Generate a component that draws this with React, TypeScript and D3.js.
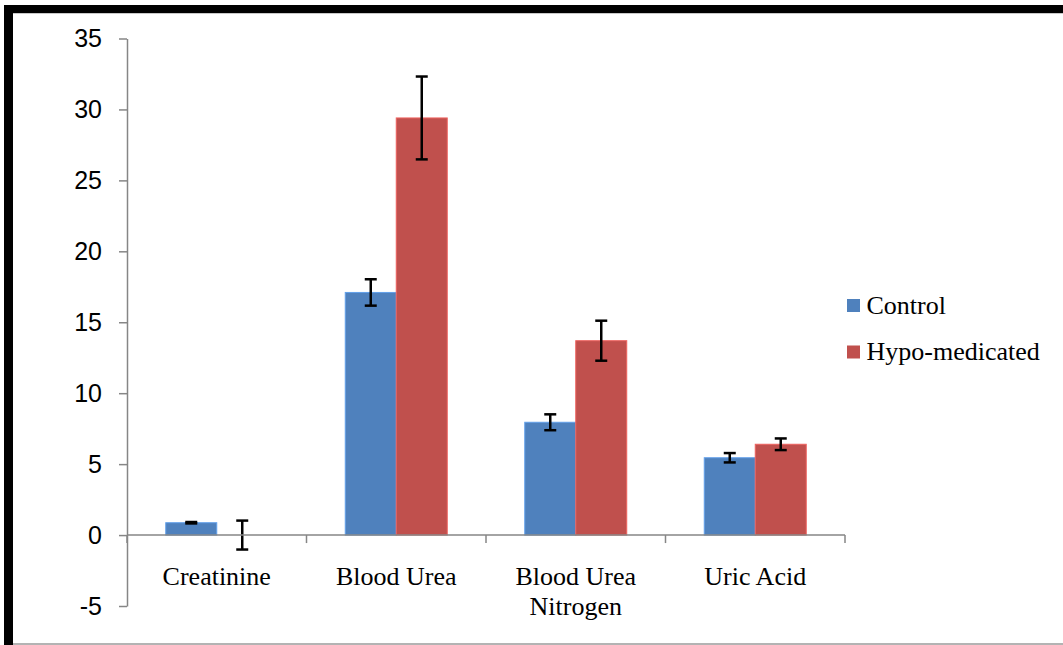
import { useEffect, useRef } from 'react';
import * as d3 from 'd3';

const categories = ['Creatinine', 'Blood Urea', 'Blood Urea Nitrogen', 'Uric Acid'];
const categoryLines = [['Creatinine'], ['Blood Urea'], ['Blood Urea', 'Nitrogen'], ['Uric Acid']];
const seriesNames = ['Control', 'Hypo-medicated'];
const controlValues = [0.87, 17.1, 7.95, 5.45];
const controlErrors = [0.05, 0.93, 0.56, 0.33];
const hypoValues = [0, 29.4, 13.7, 6.4];
const hypoErrors = [1.02, 2.92, 1.41, 0.41];
const yTicks = [-5, 0, 5, 10, 15, 20, 25, 30, 35];
const colors = ['#4F81BD', '#C0504D'];

export default function App() {
  const svgRef = useRef<SVGSVGElement>(null);

  useEffect(() => {
    if (!svgRef.current) return;
    const svg = d3.select(svgRef.current);
    svg.selectAll('*').remove();

    const width = 1063;
    const height = 645;
    svg.attr('width', width).attr('height', height);

    // outer frame: thick black top/left, thin gray lines
    svg.append('rect').attr('width', width).attr('height', height).attr('fill', '#fff');
    svg.append('line').attr('x1', 13).attr('x2', width).attr('y1', 644).attr('y2', 644)
      .attr('stroke', '#9a9a9a').attr('stroke-width', 1.5);
    svg.append('line').attr('x1', 13).attr('x2', width).attr('y1', 13.5).attr('y2', 13.5)
      .attr('stroke', '#c8c8c8').attr('stroke-width', 1);
    svg.append('rect').attr('x', 4).attr('y', 5).attr('width', width - 4).attr('height', 8).attr('fill', '#000');
    svg.append('rect').attr('x', 4).attr('y', 5).attr('width', 9).attr('height', height - 5).attr('fill', '#000');

    const x0 = 127;
    const x1 = 845;
    const y = d3.scaleLinear().domain([-5, 35]).range([606, 38.5]);

    const xCat = d3.scaleBand().domain(categories).range([x0, x1]).paddingInner(0).paddingOuter(0);
    const xSeries = d3.scaleBand().domain(seriesNames).range([0, xCat.bandwidth()]).paddingInner(0).paddingOuter(0.76);

    const axisColor = '#868686';
    const serif = '"Liberation Serif", "Times New Roman", serif';

    // y axis
    const yAxis = svg.append('g').attr('transform', `translate(${x0},0)`)
      .call(d3.axisLeft(y).tickValues(yTicks).tickSize(8).tickSizeOuter(0).tickPadding(17).tickFormat((d) => `${d}`));
    yAxis.select('.domain').attr('stroke', axisColor).attr('stroke-width', 1.5);
    yAxis.selectAll('line').attr('stroke', axisColor).attr('stroke-width', 1.5);
    yAxis.selectAll('text').attr('fill', '#000').attr('font-size', 25)
      .attr('font-family', '"Liberation Sans", Arial, sans-serif');

    const data = categories.map((c, i) => ({
      cat: c,
      vals: [
        { s: seriesNames[0], v: controlValues[i], e: controlErrors[i], c: colors[0] },
        { s: seriesNames[1], v: hypoValues[i], e: hypoErrors[i], c: colors[1] },
      ],
    }));

    const groups = svg.append('g').selectAll('g').data(data).enter().append('g')
      .attr('transform', (d) => `translate(${xCat(d.cat)},0)`);

    groups.selectAll('rect').data((d) => d.vals).enter().append('rect')
      .attr('x', (d) => xSeries(d.s) ?? 0)
      .attr('y', (d) => y(Math.max(0, d.v)))
      .attr('width', xSeries.bandwidth())
      .attr('height', (d) => Math.abs(y(d.v) - y(0)))
      .attr('fill', (d) => d.c)
      .attr('stroke', (d) => d3.color(d.c)!.brighter(0.6).formatHex())
      .attr('stroke-width', (d) => (d.v > 0 ? 1 : 0));

    // x axis
    svg.append('line').attr('x1', x0).attr('x2', x1).attr('y1', y(0)).attr('y2', y(0))
      .attr('stroke', axisColor).attr('stroke-width', 1.5);
    const bounds = [...categories.map((c) => xCat(c) ?? 0), x1];
    svg.append('g').selectAll('line').data(bounds).enter().append('line')
      .attr('x1', (d) => d).attr('x2', (d) => d)
      .attr('y1', y(0)).attr('y2', y(0) + 8)
      .attr('stroke', axisColor).attr('stroke-width', 1.5);

    // error bars
    const eb = groups.selectAll('g.err').data((d) => d.vals).enter().append('g').attr('class', 'err');
    const cx = (d: { s: string }) => (xSeries(d.s) ?? 0) + xSeries.bandwidth() / 2;
    eb.append('line')
      .attr('x1', cx).attr('x2', cx)
      .attr('y1', (d) => y(d.v + d.e)).attr('y2', (d) => y(d.v - d.e))
      .attr('stroke', '#000').attr('stroke-width', 2.5);
    eb.append('line')
      .attr('x1', (d) => cx(d) - 6).attr('x2', (d) => cx(d) + 6)
      .attr('y1', (d) => y(d.v + d.e)).attr('y2', (d) => y(d.v + d.e))
      .attr('stroke', '#000').attr('stroke-width', 2.5);
    eb.append('line')
      .attr('x1', (d) => cx(d) - 6).attr('x2', (d) => cx(d) + 6)
      .attr('y1', (d) => y(d.v - d.e)).attr('y2', (d) => y(d.v - d.e))
      .attr('stroke', '#000').attr('stroke-width', 2.5);

    // category labels
    const labels = svg.append('g').selectAll('text').data(categories).enter().append('text')
      .attr('x', (d) => (xCat(d) ?? 0) + xCat.bandwidth() / 2)
      .attr('y', 585)
      .attr('text-anchor', 'middle')
      .attr('font-family', serif)
      .attr('font-size', 26)
      .attr('fill', '#000');
    labels.each(function (d, i) {
      const t = d3.select(this);
      categoryLines[i].forEach((line, j) => {
        t.append('tspan').attr('x', (xCat(d) ?? 0) + xCat.bandwidth() / 2).attr('dy', j === 0 ? 0 : 30).text(line);
      });
    });

    // legend
    const legend = svg.append('g').selectAll('g').data(seriesNames).enter().append('g')
      .attr('transform', (_, i) => `translate(847,${299 + i * 46.5})`);
    legend.append('rect').attr('width', 13).attr('height', 13).attr('fill', (_, i) => colors[i]);
    legend.append('text').attr('x', 19.5).attr('y', 14.5)
      .attr('font-family', serif)
      .attr('font-size', 26).attr('fill', '#000')
      .text((d) => d);
  }, []);

  return (
    <>
      <style>{'body{margin:0}'}</style>
      <svg ref={svgRef} style={{ display: 'block' }} />
    </>
  );
}
